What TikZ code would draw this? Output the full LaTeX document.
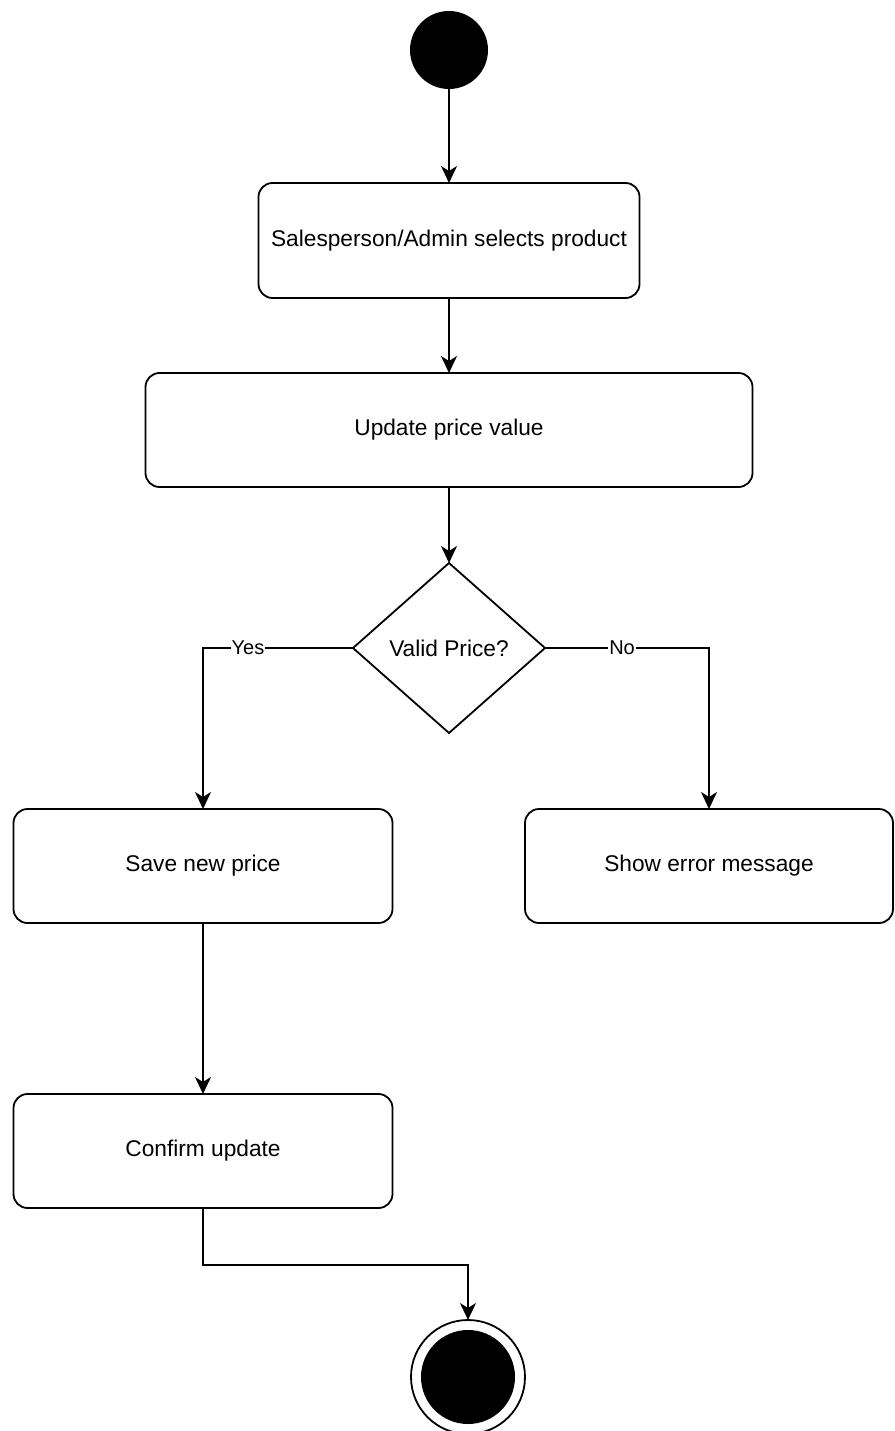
\documentclass[tikz,border=0pt]{standalone}
\usepackage{fontspec}
\setmainfont{Liberation Sans}
\usetikzlibrary{shapes.geometric,arrows.meta}

\tikzset{
  action/.style={draw, line width=1.8pt, rounded corners=14pt, inner sep=0pt, outer sep=0pt,
    font=\fontsize{22.7}{26}\selectfont, align=center},
  decision/.style={draw, diamond, line width=1.8pt, inner sep=0pt, outer sep=0pt,
    minimum width=192pt, minimum height=170pt},
  initial/.style={circle, fill=black, minimum size=78pt, inner sep=0pt, outer sep=0pt},
  final/.style={circle, draw, line width=1.8pt, minimum size=114pt, inner sep=0pt, outer sep=0pt,
    path picture={\fill (path picture bounding box.center) circle (47pt);}},
  flow/.style={line width=1.8pt, -{Stealth[length=17pt,width=16pt,inset=5pt]}},
  guard/.style={fill=white, inner sep=1pt, font=\fontsize{20}{24}\selectfont},
}

\begin{document}
\begin{tikzpicture}[x=1pt, y=-1pt]
  \useasboundingbox (0,0) rectangle (894,1431);

  % activity nodes
  \node[initial] (start) at (449,50) {};
  \node[action, minimum width=381pt, minimum height=115pt] (select) at (449,240.5)
    {Salesperson/Admin selects product};
  \node[action, minimum width=607pt, minimum height=114pt] (update) at (449,430)
    {Update price value};
  \node[decision] (valid) at (449,648) {};
  \node[font=\fontsize{22.7}{26}\selectfont] (validtxt) at (valid.center) {Valid Price?};
  \node[action, minimum width=379pt, minimum height=114pt] (save) at (203,866)
    {Save new price};
  \node[action, minimum width=368pt, minimum height=114pt] (error) at (709,866)
    {Show error message};
  \node[action, minimum width=379pt, minimum height=114pt] (confirm) at (203,1151)
    {Confirm update};
  \node[final] (end) at (468,1377) {};

  % control flow
  \draw[flow] (start) -- (select);
  \draw[flow] (select) -- (update);
  \draw[flow] (update) -- (valid.north);
  \draw[flow] (valid.west) -| node[guard, pos=0.35] {Yes} (save.north);
  \draw[flow] (valid.east) -| node[guard, pos=0.235] {No} (error.north);
  \draw[flow] (save) -- (confirm);
  \draw[flow] (confirm.south) -- ++(0,57) -| (end.north);
\end{tikzpicture}
\end{document}
